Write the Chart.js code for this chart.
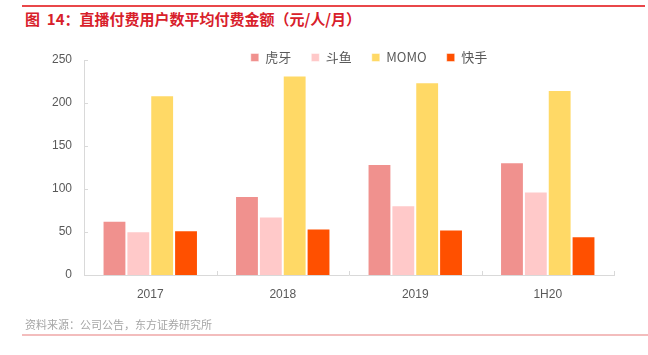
<!DOCTYPE html>
<html>
<head>
<meta charset="utf-8">
<script src="https://cdn.jsdelivr.net/npm/chart.js@4.4.1/dist/chart.umd.min.js"></script>
<style>
  html, body { margin: 0; padding: 0; background: #fff; }
  body { width: 648px; height: 355px; position: relative; overflow: hidden; font-family: "Noto Sans CJK SC", sans-serif; }
  #topline { position: absolute; left: 22px; top: 5px; width: 623px; height: 2px; background: #E9474A; }
  #title { position: absolute; left: 25px; top: 9px; font-size: 15px; font-weight: bold; color: #D8202A; white-space: nowrap; line-height: 20px; }
  #source { position: absolute; left: 25px; top: 316px; font-size: 11px; color: #A6A6A6; white-space: nowrap; line-height: 16px; }
  #botline { position: absolute; left: 22px; top: 334px; width: 626px; height: 2px; background: #F3BDBD; }
  canvas { position: absolute; left: 0; top: 0; }
</style>
</head>
<body>
<div id="topline"></div>
<div id="title">图&nbsp;&nbsp;14：直播付费用户数平均付费金额（元/人/月）</div>
<canvas id="c" width="648" height="355"></canvas>
<div id="source">资料来源：公司公告，东方证券研究所</div>
<div id="botline"></div>
<script>
const categories = ["2017", "2018", "2019", "1H20"];
const seriesNames = ["虎牙", "斗鱼", "MOMO", "快手"];
const huya = [63, 92, 129, 131];
const douyu = [51, 68, 81, 97];
const momo = [209, 232, 224, 215];
const kuaishou = [52, 54, 53, 45];
const yTicks = [0, 50, 100, 150, 200, 250];

const colors = ["#F0918E", "#FFC9C9", "#FFD966", "#FF5000"];
const seriesValues = [huya, douyu, momo, kuaishou];

const innerTicks = {
  id: 'innerTicks',
  afterDatasetsDraw(chart) {
    const ctx = chart.ctx;
    const x = chart.scales.x, y = chart.scales.y;
    ctx.save();
    ctx.strokeStyle = '#D9D9D9';
    ctx.lineWidth = 1;
    ctx.beginPath();
    y.ticks.forEach(t => {
      const py = Math.round(y.getPixelForValue(t.value)) + 0.5;
      ctx.moveTo(x.left, py); ctx.lineTo(x.left + 4, py);
    });
    const n = categories.length;
    for (let i = 0; i <= n; i++) {
      const px = Math.round(x.left + (x.right - x.left) * i / n) + 0.5;
      ctx.moveTo(px, y.bottom); ctx.lineTo(px, y.bottom - 4);
    }
    ctx.stroke();
    ctx.restore();
  }
};

// Legend floats over the top of the plot area, like the reference
const legendFloat = {
  id: 'legendFloat',
  beforeLayout(chart) {
    const lg = chart.legend;
    if (!lg || lg._floatPatched) return;
    const origFit = lg.fit.bind(lg);
    lg.fit = function () { origFit(); this._realHeight = this.height; this.height = 0; };
    lg._floatPatched = true;
  },
  afterLayout(chart) {
    const lg = chart.legend;
    if (!lg) return;
    const targetCenterX = 369;
    const targetCenterY = 60;
    const w = lg.right - lg.left;
    lg.left = targetCenterX - w / 2;
    lg.right = targetCenterX + w / 2;
    const pad = lg.options.labels.padding;
    const h = lg._realHeight || 50;
    lg.top = targetCenterY - pad - 9;
    lg.bottom = lg.top + h;
    lg.height = h;
    lg.width = w;
  }
};

new Chart(document.getElementById('c'), {
  type: 'bar',
  data: {
    labels: categories,
    datasets: seriesNames.map((name, i) => ({
      label: name,
      data: seriesValues[i],
      backgroundColor: colors[i],
      borderColor: 'rgba(255,255,255,0.45)',
      borderWidth: 1,
      categoryPercentage: 0.72,
      barPercentage: 1.0
    }))
  },
  options: {
    responsive: false,
    animation: false,
    layout: { padding: { left: 0, right: 34, top: 60, bottom: 0 } },
    plugins: {
      title: { display: false },
      tooltip: { enabled: false },
      legend: {
        position: 'top',
        align: 'center',
        labels: {
          boxWidth: 8,
          boxHeight: 8,
          padding: 20,
          color: '#595959',
          font: { family: '"Noto Sans CJK SC", sans-serif', size: 13 }
        }
      }
    },
    scales: {
      x: {
        grid: { display: false, drawTicks: false },
        border: { display: true, color: '#D9D9D9', width: 1 },
        ticks: {
          color: '#595959',
          padding: 12,
          font: { family: '"Liberation Sans", sans-serif', size: 12 }
        },
        afterFit(s) { s.height = 80; }
      },
      y: {
        min: 0,
        max: 250,
        afterBuildTicks(s) { s.ticks = yTicks.map(v => ({ value: v })); },
        grid: { display: false, drawTicks: false },
        border: { display: true, color: '#D9D9D9', width: 1 },
        ticks: {
          color: '#595959',
          padding: 12,
          font: { family: '"Liberation Sans", sans-serif', size: 12 }
        },
        afterFit(s) { s.width = 84; }
      }
    }
  },
  plugins: [legendFloat, innerTicks]
});
</script>
</body>
</html>
